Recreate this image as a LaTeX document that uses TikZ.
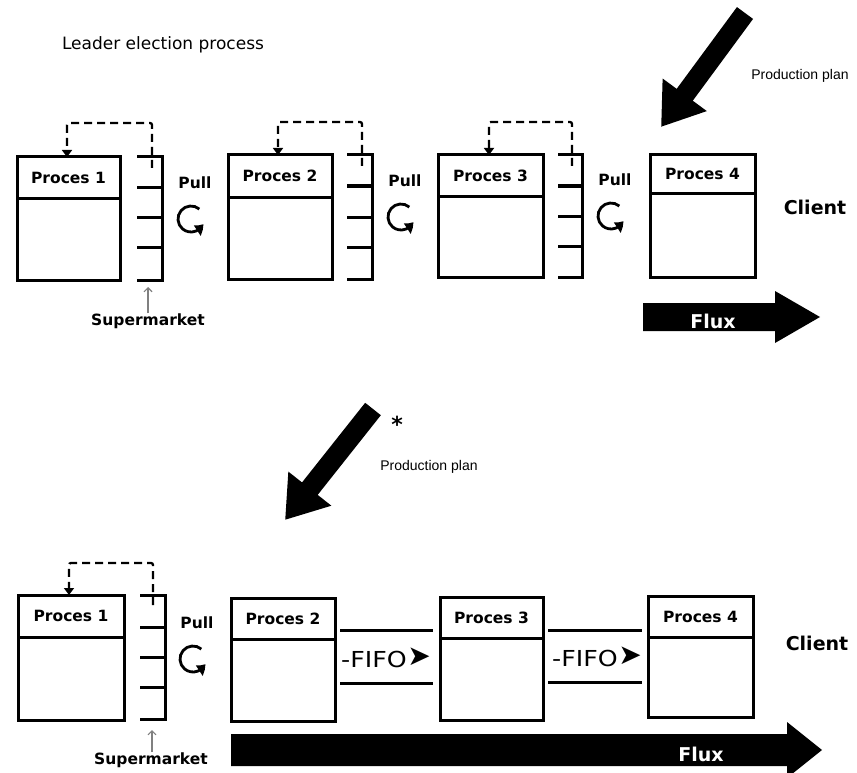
\documentclass[tikz,border=0pt]{standalone}
\usepackage{fontspec}
\setmainfont{DejaVu Sans}
\newfontfamily\libsans{Liberation Sans}
\usetikzlibrary{arrows.meta,bending,calc,fit}
\newcommand\procnode[7]{% name, x1, y1, x2, y2, ydiv, label
  \node[box, fit={(#2,#3) (#4,#5)}] (#1) {};
  \draw[rack] (#2,#6) -- (#4,#6);
  \node[hdr] (#1t) at ($(#2,#3)!0.5!(#4,#6)$) {#7};}
\newcommand\rackdraw[7]{% xl, xr, ytop, ybot, t1, t2, t3
  \draw[rack] (#1,#3) -- (#2,#3) -- (#2,#4) -- (#1,#4);
  \foreach \yy in {#5,#6,#7} \draw[rack] (#1,\yy) -- (#2,\yy);}
\newcommand\pullsym[3]{% name, cx, cy
  \node[lbl] (#1) at (#2+4,#3-36) {Pull};
  \begin{scope}[shift={(#2,#3)}, y=1pt]
    \draw[cyc] (50:13) arc[start angle=50, end angle=338, radius=13];
  \end{scope}}
\begin{document}
\begin{tikzpicture}[x=1pt,y=-1pt,
  box/.style={draw, line width=3pt, inner sep=0pt, outer sep=0pt},
  rack/.style={line width=3pt},
  hdr/.style={font=\bfseries\fontsize{15.5}{17}\selectfont, inner sep=0pt},
  lbl/.style={font=\bfseries\fontsize{15.5}{17}\selectfont, inner sep=0pt},
  big/.style={font=\bfseries\fontsize{19}{21}\selectfont, inner sep=0pt},
  small/.style={font=\libsans\fontsize{14}{16}\selectfont, inner sep=0pt},
  fbk/.style={line width=2.3pt, dash pattern=on 8pt off 5pt, rounded corners=2pt, -{Triangle[length=7pt,width=10pt]}},
  cyc/.style={line width=2.8pt, -{Triangle[length=9pt,width=12pt,bend]}},
  pplan/.style={line width=20pt, -{Triangle[length=40pt,width=52pt]}},
  gar/.style={draw=gray, line width=1.1pt, -{Straight Barb[length=4pt,width=8pt]}},
  fifo/.style={font=\fontsize{22}{24}\selectfont, inner sep=0pt, xscale=1.15, transform shape},
  tri/.style={font=\fontsize{28}{30}\selectfont, inner sep=0pt},
  fline/.style={line width=3pt}]
\useasboundingbox (0,0) rectangle (857,773);

% ---------- top part ----------
\node[font=\fontsize{17}{19}\selectfont, inner sep=0pt] (title) at (163,45) {Leader election process};

\coordinate (pptail1) at (745,13);
\coordinate (pptip1) at (661,127);
\draw[pplan] (pptail1) -- (pptip1);
\node[small] (pp1) at (800,76) {Production plan};

\procnode{a1}{17}{157}{120}{280}{198}{Proces 1}
\procnode{a2}{228}{155}{332}{279}{197}{Proces 2}
\procnode{a3}{438}{155}{543}{277}{196}{Proces 3}
\procnode{a4}{650}{155}{755}{277}{193}{Proces 4}

\rackdraw{137}{162}{157}{280}{187}{217}{247}
\rackdraw{347}{372}{155}{279}{186}{217}{247}
\rackdraw{558}{582}{155}{277}{186}{216}{246}

\coordinate (ra1) at (152,168);
\coordinate (ra1u) at (67,123);
\draw[fbk] (ra1) |- (ra1u) -- (a1.north -| ra1u);
\coordinate (ra2) at (362,166);
\coordinate (ra2u) at (278,122);
\draw[fbk] (ra2) |- (ra2u) -- (a2.north -| ra2u);
\coordinate (ra3) at (572,166);
\coordinate (ra3u) at (489,122);
\draw[fbk] (ra3) |- (ra3u) -- (a3.north -| ra3u);

\pullsym{pa1}{191}{219}
\pullsym{pa2}{401}{217}
\pullsym{pa3}{611}{216}

\node[lbl] (sm1) at (148,321) {Supermarket};
\coordinate (sm1t) at (148,287);
\draw[gar] (sm1.north) -- (sm1t);

\node[big] (cl1) at (815,207) {Client};

\fill (643,303) -- (775,303) -- (775,291) -- (820,317) -- (775,343) -- (775,331) -- (643,331) -- cycle;
\node[big, text=white] (fx1) at (713,321) {Flux};

% ---------- bottom part ----------
\coordinate (pptail2) at (373,409);
\coordinate (pptip2) at (285,520);
\draw[pplan] (pptail2) -- (pptip2);
\node[font=\bfseries\fontsize{22}{24}\selectfont, inner sep=0pt] (star) at (397,424) {*};
\node[small] (pp2) at (429,467) {Production plan};

\procnode{b1}{18}{595}{124}{720}{637}{Proces 1}
\procnode{b2}{231}{598}{335}{721}{639}{Proces 2}
\procnode{b3}{440}{597}{543}{720}{638}{Proces 3}
\procnode{b4}{648}{596}{753}{717}{637}{Proces 4}

\rackdraw{140}{165}{595}{719}{627}{657}{687}
\coordinate (rb1) at (153,605);
\coordinate (rb1u) at (69,563);
\draw[fbk] (rb1) |- (rb1u) -- (b1.north -| rb1u);

\pullsym{pb1}{193}{659}

\draw[fline] (340,630) -- (433,630);
\draw[fline] (340,683) -- (433,683);
\node[fifo] (f1) at (374,659) {-FIFO};
\node[tri] (f1a) at (419,657) {➤};
\draw[fline] (548,630) -- (642,630);
\draw[fline] (548,682) -- (642,682);
\node[fifo] (f2) at (585,658) {-FIFO};
\node[tri] (f2a) at (630,656) {➤};

\node[lbl] (sm2) at (151,760) {Supermarket};
\coordinate (sm2t) at (152,730);
\draw[gar] (sm2.north -| sm2t) -- (sm2t);

\node[big] (cl2) at (817,643) {Client};

\fill (231,734) -- (787,734) -- (787,722) -- (822,750) -- (787,778) -- (787,766) -- (231,766) -- cycle;
\node[big, text=white] (fx2) at (701,754) {Flux};
\end{tikzpicture}
\end{document}
